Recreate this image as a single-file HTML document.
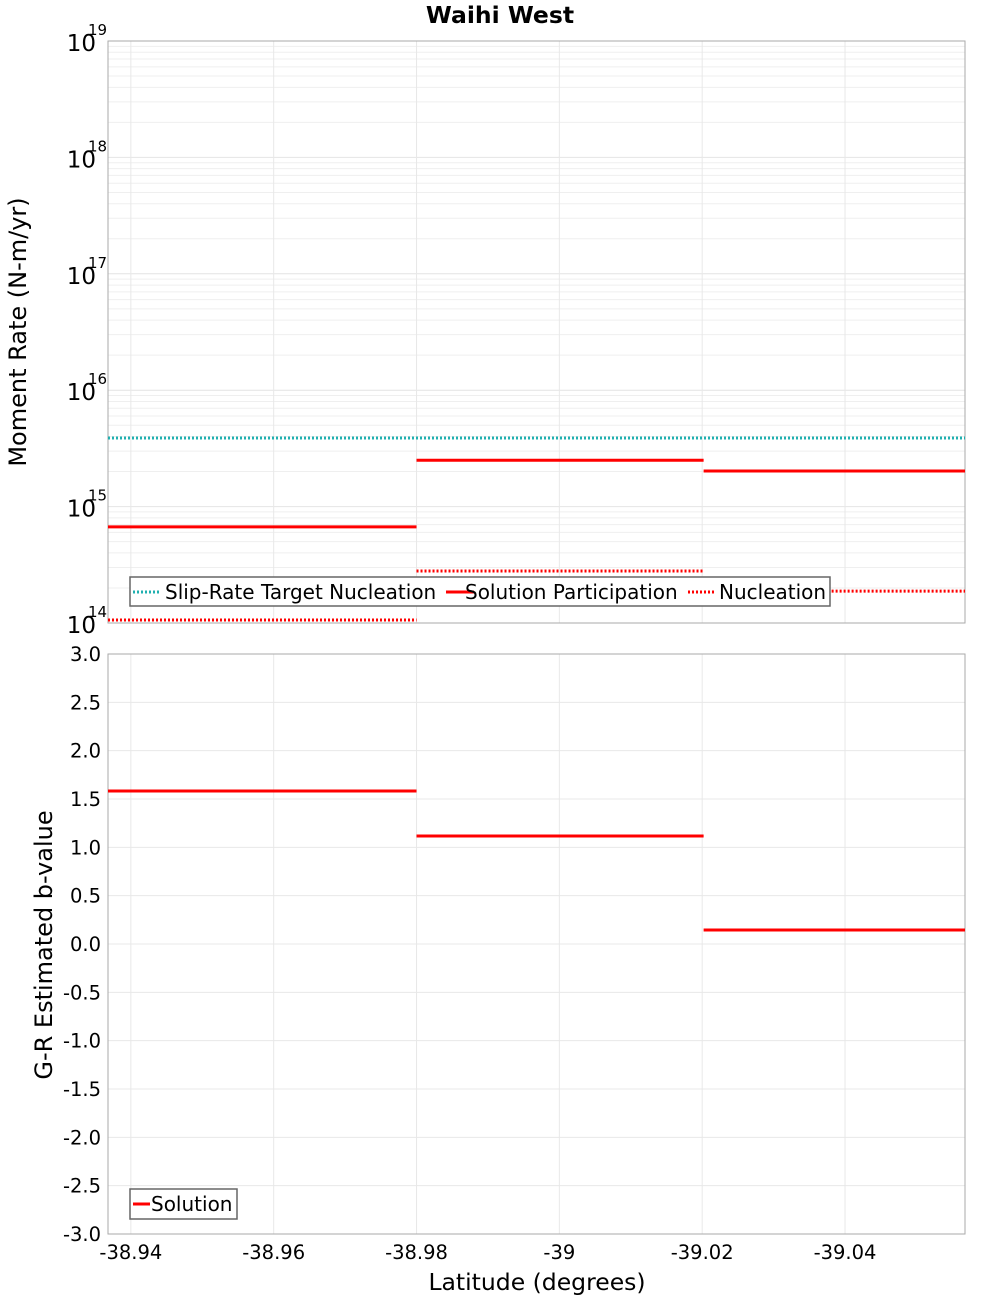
<!DOCTYPE html>
<html><head><meta charset="utf-8"><style>
body{margin:0;background:#fff;font-family:"DejaVu Sans","Liberation Sans",sans-serif}
</style></head><body>
<svg id="c" width="1000" height="1300" xmlns="http://www.w3.org/2000/svg" font-family="DejaVu Sans, Liberation Sans, sans-serif"></svg>
<script>
const segEdges=[-38.9368,-38.98,-39.0202,-39.0568];
const targetValue=3.88e15;
const participation=[6.7e14,2.5e15,2.02e15];
const nucleation=[1.06e14,2.8e14,1.88e14];
const bValues=[1.583,1.117,0.145];
const xTicks=[-38.94,-38.96,-38.98,-39,-39.02,-39.04];
const xTickLabels=["-38.94","-38.96","-38.98","-39","-39.02","-39.04"];
const bTicks=[3,2.5,2,1.5,1,0.5,0,-0.5,-1,-1.5,-2,-2.5,-3];
const decades=[14,15,16,17,18,19];

const svg=document.getElementById('c');const NS='http://www.w3.org/2000/svg';
function el(t,a,txt){const e=document.createElementNS(NS,t);for(const k in a)e.setAttribute(k,a[k]);if(txt!==undefined)e.textContent=txt;svg.appendChild(e);return e;}
const L=108,R=965,T1=41,B1=623,T2=654,B2=1234;
const xS=v=>L+(v-segEdges[0])/(segEdges[3]-segEdges[0])*(R-L);
const yLog=v=>B1-(Math.log10(v)-14)/5*(B1-T1);
const yB=v=>B2-(v+3)/6*(B2-T2);

let t=el('text',{x:500,y:23,'text-anchor':'middle','font-size':23.5,'font-weight':'bold'},'Waihi West');


for(let d=14;d<19;d++)for(let m=1;m<10;m++){const y=yLog(m*Math.pow(10,d));let g=el('line',{x1:L,x2:R,y1:y,y2:y,stroke:m==1?'#e4e4e4':'#efefef','stroke-width':1});}
bTicks.forEach(v=>{const y=yB(v);let g=el('line',{x1:L,x2:R,y1:y,y2:y,stroke:'#e8e8e8'});});
xTicks.forEach(v=>{const x=xS(v);[[T1,B1],[T2,B2]].forEach(([a,b])=>{let g=el('line',{x1:x,x2:x,y1:a,y2:b,stroke:'#e8e8e8'});});});

let f1=el('rect',{x:L,y:T1,width:R-L,height:B1-T1,fill:'none',stroke:'#aaa'});
let f2=el('rect',{x:L,y:T2,width:R-L,height:B2-T2,fill:'none',stroke:'#aaa'});

decades.forEach(d=>{const y=yLog(Math.pow(10,d));let g=el('text',{x:96,y:y+10,'text-anchor':'end','font-size':23},'10');
let s=el('text',{x:88,y:y-6,'font-size':15},String(d));});
bTicks.forEach(v=>{let g=el('text',{x:101,y:yB(v)+7,'text-anchor':'end','font-size':19.5},v.toFixed(1));});
xTicks.forEach((v,i)=>{let g=el('text',{x:xS(v),y:1259,'text-anchor':'middle','font-size':19.5},xTickLabels[i]);});

t=el('text',{x:0,y:0,'text-anchor':'middle','font-size':24,transform:'translate(26,332) rotate(-90)'},'Moment Rate (N-m/yr)');
t=el('text',{x:0,y:0,'text-anchor':'middle','font-size':24,transform:'translate(52,945) rotate(-90)'},'G-R Estimated b-value');
t=el('text',{x:537,y:1290,'text-anchor':'middle','font-size':23.5},'Latitude (degrees)');

let ln=el('line',{x1:L,x2:R,y1:yLog(targetValue),y2:yLog(targetValue),stroke:'#20b0b0','stroke-width':3,'stroke-dasharray':'2,2'});
for(let i=0;i<3;i++){
 let a=el('line',{x1:xS(segEdges[i]),x2:xS(segEdges[i+1]),y1:yLog(participation[i]),y2:yLog(participation[i]),stroke:'#f00','stroke-width':3});
 let b=el('line',{x1:xS(segEdges[i]),x2:xS(segEdges[i+1]),y1:yLog(nucleation[i]),y2:yLog(nucleation[i]),stroke:'#f00','stroke-width':3,'stroke-dasharray':'2,2'});
 let c=el('line',{x1:xS(segEdges[i]),x2:xS(segEdges[i+1]),y1:yB(bValues[i]),y2:yB(bValues[i]),stroke:'#f00','stroke-width':3});
}

let lg=el('rect',{x:130,y:577,width:700,height:29,fill:'#fff',stroke:'#666','stroke-width':1.5});
[[133,'#20b0b0',true,'Slip-Rate Target Nucleation',165],[446,'#f00',false,'Solution Participation',465],[688,'#f00',true,'Nucleation',719]].forEach(([x,c,d,s,tx])=>{
 let l=el('line',{x1:x,x2:x+28,y1:592,y2:592,stroke:c,'stroke-width':3});if(d)l.setAttribute('stroke-dasharray','2,2');
 let tt=el('text',{x:tx,y:599,'font-size':20},s);});
lg=el('rect',{x:130,y:1189,width:107,height:30,fill:'#fff',stroke:'#666','stroke-width':1.5});
let l2=el('line',{x1:133,x2:150,y1:1204,y2:1204,stroke:'#f00','stroke-width':3});
t=el('text',{x:151,y:1211,'font-size':20},'Solution');
</script>
</body></html>
